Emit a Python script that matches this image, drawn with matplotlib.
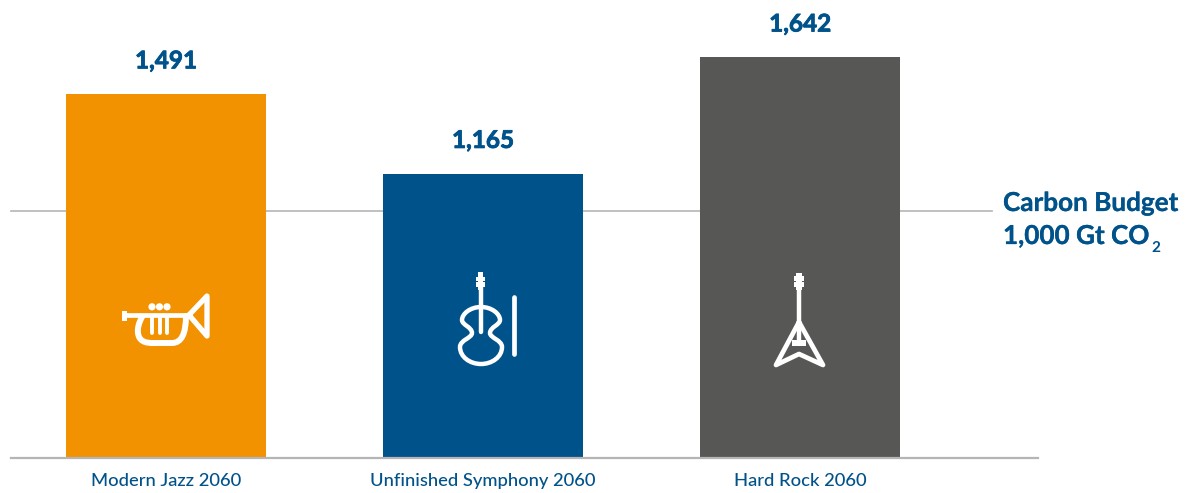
import matplotlib
matplotlib.use('Agg')
import matplotlib.pyplot as plt
import matplotlib.patheffects as pe
from matplotlib.path import Path
from matplotlib.patches import PathPatch, Circle, Rectangle

# Data
scenarios = ['Modern Jazz 2060', 'Unfinished Symphony 2060', 'Hard Rock 2060']
emissions = [1491, 1165, 1642]
bar_colors = ['#F39200', '#00528A', '#575756']
# the reference draws its 1,000 Gt line a little high against the bars, this is where it sits
budget_line_level = 1012

BLUE = '#00528A'
LINE = '#B5B5B5'
W, H = 1191, 493
BASE_PX = 458
PX_PER_UNIT = 0.244
M, L, C3, C4 = Path.MOVETO, Path.LINETO, Path.CURVE3, Path.CURVE4

plt.rcParams['font.family'] = ['Lato', 'DejaVu Sans']
heavy = [pe.withStroke(linewidth=0.6, foreground=BLUE)]
heavy_small = [pe.withStroke(linewidth=0.2, foreground=BLUE)]

fig = plt.figure(figsize=(W / 100, H / 100), dpi=100)
fig.patch.set_facecolor('white')

# Axes fill the figure above the baseline, x is in bar slots
ax = fig.add_axes([0, (H - BASE_PX) / H, 1, BASE_PX / H])
ax.set_xlim(-166 / 317, (W - 166) / 317)
ax.set_ylim(0, BASE_PX / PX_PER_UNIT)
ax.axis('off')

ax.plot([-0.489, 2.606], [budget_line_level, budget_line_level], color=LINE, lw=1.2, zorder=1)
ax.bar(range(3), emissions, width=0.631, color=bar_colors, zorder=2)
ax.plot([-0.489, 2.751], [0, 0], color=LINE, lw=1.6, zorder=3, clip_on=False)

for i, v in enumerate(emissions):
    ax.annotate(f'{v:,}', (i, v), xytext=(0, 24), textcoords='offset points',
                ha='center', va='center', color=BLUE, fontsize=17.5, fontweight='bold',
                path_effects=heavy)
    ax.annotate(scenarios[i], (i, 0), xytext=(0, -16.5), textcoords='offset points',
                ha='center', va='center', color=BLUE, fontsize=13.2, fontweight='medium')

# Overlay in picture pixels for the icons and the budget label
ov = fig.add_axes([0, 0, 1, 1])
ov.set_xlim(0, W)
ov.set_ylim(H, 0)
ov.axis('off')
ov.patch.set_alpha(0)

ov.text(1003, 203, 'Carbon Budget', color=BLUE, fontsize=18.8, fontweight='bold', va='center',
        path_effects=heavy_small)
ov.text(1003, 236, '1,000 Gt CO', color=BLUE, fontsize=18.8, fontweight='bold', va='center',
        path_effects=heavy_small)
ov.text(1151, 248, '2', color=BLUE, fontsize=11, fontweight='bold', va='center')


def stroke(verts, codes=None, lw=3.2):
    ov.add_patch(PathPatch(Path(verts, codes), fc='none', ec='white', lw=lw,
                           capstyle='round', joinstyle='round', zorder=5))


def box(x0, y0, x1, y1):
    ov.add_patch(Rectangle((x0, y0), x1 - x0, y1 - y0, fc='white', ec='none', zorder=5))


# Trumpet
box(122, 311, 127, 321)
stroke([(125, 315), (190, 315)], lw=3.4)
stroke([(189, 315), (207, 296), (207, 336), (189, 315)], [M, L, L, L], lw=3.8)
stroke([(142, 317), (137, 326), (138, 333), (139, 344), (155, 343), (172, 343),
        (186, 343), (186, 316)], [M, C3, C3, C3, C3, L, C3, C3], lw=4.3)
for x in [152, 159.5, 167]:
    stroke([(x, 316), (x, 333)], lw=2.8)
    ov.add_patch(Circle((x, 306.8), 3.6, fc='white', ec='none', zorder=5))

# Violin
box(476, 277, 485, 281)
box(476, 282, 485, 287)
box(478, 272, 483, 290)
stroke([(481, 285), (481, 332)], lw=3.2)
stroke([(481, 307), (470, 307), (462, 314), (462, 320),
        (462, 325), (472, 327), (472, 333),
        (472, 338), (460, 340), (460, 347),
        (460, 357), (470, 364), (481, 364),
        (492, 364), (502, 357), (502, 347),
        (502, 340), (490, 338), (490, 333),
        (490, 327), (500, 325), (500, 320),
        (500, 314), (492, 307), (481, 307)],
       [M] + [C4] * 24, lw=3.2)
stroke([(514, 297), (514, 354)], lw=3.4)

# Flying V guitar
box(794, 276, 804, 281)
box(794, 282, 804, 287)
box(796, 273, 802, 290)
stroke([(799, 285), (799, 343)], lw=3.2)
box(792, 340, 806, 346)
stroke([(799, 322), (776, 365), (799, 354), (823, 365), (799, 322)], lw=3.4)

fig.savefig('out.png', dpi=100, facecolor='white')
